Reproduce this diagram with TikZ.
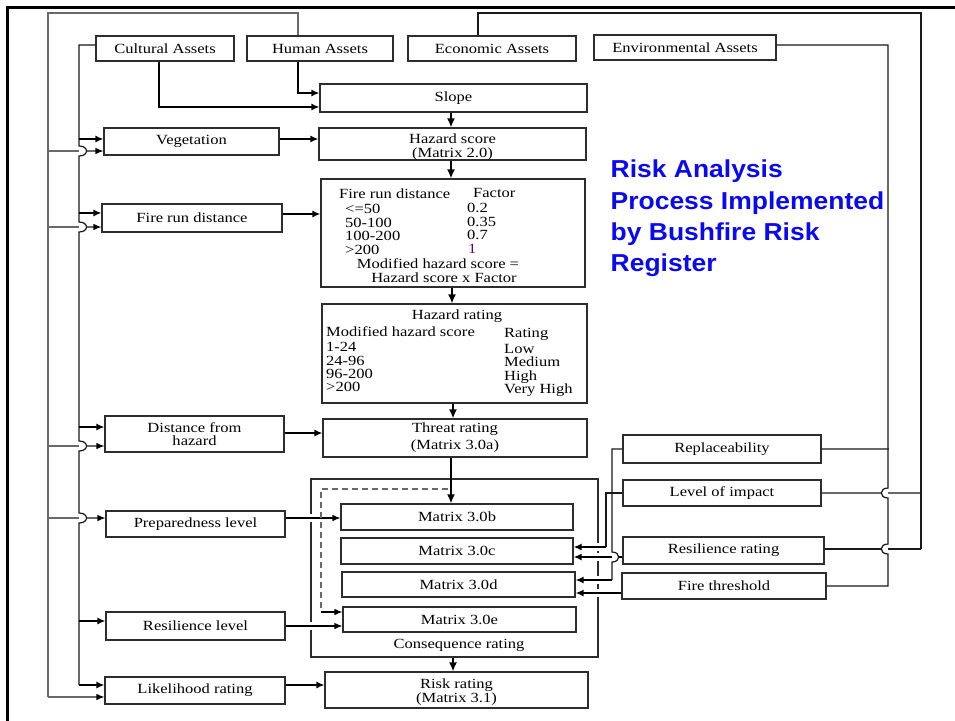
\documentclass[tikz,border=0pt]{standalone}
\usepackage{fontspec}
\usetikzlibrary{arrows.meta,calc}
\newfontfamily\boxfont{Liberation Serif}[FakeStretch=1.18]
\newfontfamily\titlefont{Liberation Sans}[FakeStretch=1.08]
\definecolor{boxc}{RGB}{45,45,45}
\definecolor{linec}{RGB}{25,25,25}
\definecolor{thinc}{RGB}{105,105,105}
\definecolor{titlec}{RGB}{10,10,240}
\definecolor{onec}{RGB}{110,0,70}
\begin{document}
\begin{tikzpicture}[x=1pt,y=-1pt,
  box/.style={draw=boxc, line width=1.1pt, fill=white, inner sep=0pt, align=center,
    font=\boxfont\fontsize{14}{14}\selectfont},
  lbl/.style={inner sep=0pt, font=\boxfont\fontsize{14}{14}\selectfont, text height=9.5pt, text depth=0pt},
  mlbl/.style={inner sep=0pt, align=center, font=\boxfont\fontsize{14}{14}\selectfont},
  tl/.style={lbl, anchor=west},
  ttl/.style={inner sep=0pt, anchor=base west, text=titlec, font=\titlefont\bfseries\fontsize{24.5}{30}\selectfont},
  thk/.style={line width=2.8pt, draw=black, -{Latex[length=9pt,width=8pt]}},
  med/.style={line width=1.9pt, draw=black, -{Latex[length=8pt,width=7pt]}},
  thn/.style={line width=1.1pt, draw=thinc, -{Latex[length=8pt,width=6.5pt,color=black]}},
  bus/.style={line width=1.2pt, draw=linec},
  gbus/.style={line width=1.2pt, draw=thinc},
]
\fill[white] (0,0) rectangle (955,720);
\useasboundingbox (0,0) rectangle (955,720);

% outer frame
\draw[line width=3pt] (7.5,725) -- (7.5,7.5) -- (960,7.5);

% ---------------- boxes
\node[box, minimum width=138pt, minimum height=25pt] (cult) at (165,48.5) {Cultural Assets};
\node[box, minimum width=146pt, minimum height=25pt] (human) at (320,48.5) {Human Assets};
\node[box, minimum width=168pt, minimum height=25pt] (econ) at (492,48.5) {Economic Assets};
\node[box, minimum width=182pt, minimum height=25pt] (env) at (685,47.5) {Environmental Assets};

\node[box, minimum width=267pt, minimum height=28pt] (slope) at (453.5,98) {Slope};
\node[box, minimum width=267pt, minimum height=32pt] (haz) at (452.5,144) {};
\node[mlbl] (hazt) at (452.5,147) {Hazard score\\(Matrix 2.0)};
\node[box, minimum width=175pt, minimum height=27pt] (veg) at (191.5,141.5) {Vegetation};
\node[box, minimum width=180pt, minimum height=28pt] (firerun) at (192,218) {Fire run distance};
\node[box, minimum width=264pt, minimum height=108pt] (table) at (453,233) {};
\node[box, minimum width=265pt, minimum height=99pt] (hrating) at (454.5,353.5) {};
\node[box, minimum width=179pt, minimum height=36pt] (dist) at (194.5,434) {Distance from\\[-1.3pt]hazard};
\node[box, minimum width=264pt, minimum height=38pt] (threat) at (455,438) {Threat rating\\[3pt](Matrix 3.0a)};

\node[box, minimum width=287pt, minimum height=178pt] (cons) at (454.5,568) {};
% gaps where connectors cross the consequence frame
\fill[white] (308,514) rectangle (314,522);
\fill[white] (308,622) rectangle (314,630);
\fill[white] (595,543) rectangle (601,551);
\fill[white] (595,553) rectangle (601,561);
\fill[white] (595,576) rectangle (601,584);
\fill[white] (595,589) rectangle (601,597);

\node[box, minimum width=232pt, minimum height=26pt] (m3b) at (457,517) {Matrix 3.0b};
\node[box, minimum width=232pt, minimum height=26pt] (m3c) at (457,551) {Matrix 3.0c};
\node[box, minimum width=233pt, minimum height=25pt] (m3d) at (458.5,584.5) {Matrix 3.0d};
\node[box, minimum width=233pt, minimum height=25pt] (m3e) at (459.5,619.5) {Matrix 3.0e};
\node[lbl] (consl) at (459,644) {Consequence rating};
\node[box, minimum width=263pt, minimum height=36pt] (risk) at (456.5,690) {};
\node[mlbl] (riskt) at (456.5,692) {Risk rating\\(Matrix 3.1)};

\node[box, minimum width=179pt, minimum height=26pt] (prep) at (195.5,524) {Preparedness level};
\node[box, minimum width=179pt, minimum height=28pt] (resl) at (195.5,626) {Resilience level};
\node[box, minimum width=180pt, minimum height=27pt] (like) at (195,690.5) {Likelihood rating};

\node[box, minimum width=198pt, minimum height=28pt] (repl) at (722,449) {Replaceability};
\node[box, minimum width=198pt, minimum height=26pt] (impact) at (722,493) {Level of impact};
\node[box, minimum width=201pt, minimum height=27pt] (resr) at (723.5,550.5) {Resilience rating};
\node[box, minimum width=204pt, minimum height=26pt] (fire) at (724,586) {Fire threshold};

% ---------------- table texts
\node[tl] (t0a) at (339,194) {Fire run distance};
\node[tl] (t0b) at (473,193) {Factor};
\node[tl] (t1a) at (345,209) {<=50};
\node[tl] (t1b) at (467,208) {0.2};
\node[tl] (t2a) at (345,223) {50-100};
\node[tl] (t2b) at (467,222) {0.35};
\node[tl] (t3a) at (345,236) {100-200};
\node[tl] (t3b) at (467,235) {0.7};
\node[tl] (t4a) at (345,250) {>200};
\node[tl, text=onec] (t4b) at (468,249) {1};
\node[lbl] (t5) at (438,264) {Modified hazard score =};
\node[lbl] (t6) at (444,278) {Hazard score x Factor};

\node[lbl] (h0) at (457,315) {Hazard rating};
\node[tl] (h1a) at (326,332) {Modified hazard score};
\node[tl] (h1b) at (504,333) {Rating};
\node[tl] (h2a) at (326,347) {1-24};
\node[tl] (h2b) at (504,349) {Low};
\node[tl] (h3a) at (326,361) {24-96};
\node[tl] (h3b) at (504,362) {Medium};
\node[tl] (h4a) at (326,374) {96-200};
\node[tl] (h4b) at (504,376) {High};
\node[tl] (h5a) at (326,387) {>200};
\node[tl] (h5b) at (504,389) {Very High};

% ---------------- title
\node[ttl] (ti1) at (610.5,177.7) {Risk Analysis};
\node[ttl] (ti2) at (610.5,209) {Process Implemented};
\node[ttl] (ti3) at (610.5,240.4) {by Bushfire Risk};
\node[ttl] (ti4) at (610.5,271.7) {Register};

% ---------------- bus coordinates
\coordinate (hx) at (298,13);
\coordinate (cx) at (159,0);
\coordinate (ex) at (478,13);

% Human Assets -> outer left bus
\draw[gbus] (human.north -| hx) -- (hx) -- (48,13) -- (48,697);

% thin branches from outer bus
\draw[thn] (48,151) -- ($(veg.west)+(0,9.5)$);
\draw[thn] (48,227) -- ($(firerun.west)+(0,9)$);
\draw[thn] (48,446) -- ($(dist.west)+(0,12)$);
\draw[thn] (48,518) -- ($(prep.west)+(0,-6)$);
\draw[thn] (48,697) -- ($(like.west)+(0,6.5)$);

% hide crossings inside the jumps
\fill[white] (79,146) .. controls (89,146) and (89,156) .. (79,156) -- cycle;
\fill[white] (79,222) .. controls (89,222) and (89,232) .. (79,232) -- cycle;
\fill[white] (79,441) .. controls (89,441) and (89,451) .. (79,451) -- cycle;
\fill[white] (79,513) .. controls (89,513) and (89,523) .. (79,523) -- cycle;

% Cultural Assets -> inner left bus
\draw[bus] ($(cult.west)+(0,-3.5)$) -- (79,45) -- (79,146)
  .. controls (89,146) and (89,156) .. (79,156) -- (79,222)
  .. controls (89,222) and (89,232) .. (79,232) -- (79,441)
  .. controls (89,441) and (89,451) .. (79,451) -- (79,513)
  .. controls (89,513) and (89,523) .. (79,523) -- (79,685);

% thick branches from inner bus
\draw[med] (79,139) -- ($(veg.west)+(0,-2.5)$);
\draw[med] (79,213) -- ($(firerun.west)+(0,-5)$);
\draw[med] (79,427) -- ($(dist.west)+(0,-7)$);
\draw[med] (79,621) -- ($(resl.west)+(0,-5)$);
\draw[med] (79,685) -- ($(like.west)+(0,-5.5)$);

% assets -> slope
\draw[med] (human.south -| hx) |- ($(slope.west)+(0,-5)$);
\draw[med] (cult.south -| cx) |- ($(slope.west)+(0,9)$);

% left boxes -> main column
\draw[med] ($(veg.east)+(0,-2.5)$) -- ($(haz.west)+(0,-5)$);
\draw[med] ($(firerun.east)+(0,-4)$) -- ($(table.west)+(0,-19)$);
\draw[med, line width=1.5pt] ($(dist.east)+(0,-1)$) -- ($(threat.west)+(0,-5)$);
\draw[thn, draw=black] ($(prep.east)+(0,-6)$) -- ($(m3b.west)+(0,1)$);
\draw[thn, draw=black] (resl.east) -- ($(m3e.west)+(0,6.5)$);
\draw[med] ($(like.east)+(0,-5.5)$) -- ($(risk.west)+(0,-5)$);

% main vertical flow
\draw[thk] ($(slope.south)+(-2.5,0)$) -- ($(haz.north)+(-1.5,0)$);
\draw[thk] ($(haz.south)+(-1.5,0)$) -- ($(table.north)+(-2,0)$);
\draw[thk] ($(table.south)+(-1,0)$) -- ($(hrating.north)+(-2.5,0)$);
\draw[thk] ($(hrating.south)+(-1.5,0)$) -- ($(threat.north)+(-2,0)$);
\draw[thk] ($(threat.south)+(-4,0)$) -- ($(m3b.north)+(-6,0)$);
\draw[thk] ($(cons.south)+(-1.5,0)$) -- ($(risk.north)+(-3.5,0)$);

% dashed feedback into Matrix 3.0e
\coordinate (dstart) at (448,489);
\coordinate (dcorner) at (321,612);
\draw[dashed, draw=thinc, line width=1.1pt, dash pattern=on 6pt off 4pt] (dstart) -| (dcorner);
\draw[thn, draw=black] (dcorner) -- ($(m3e.west)+(0,-7.5)$);

% ---------------- right side
\draw[gbus] (repl.east) -- (889,449);
\draw[gbus] (impact.east) -- (921,493);
\draw[bus] ($(resr.east)+(0,-1.5)$) -- (921,549);
\fill[white] (888,488) .. controls (879,488) and (879,498) .. (888,498) -- cycle;
\fill[white] (888,544) .. controls (879,544) and (879,554) .. (888,554) -- cycle;
\draw[bus] ($(env.east)+(0,-2.5)$) -- (888,45) -- (888,488)
  .. controls (879,488) and (879,498) .. (888,498) -- (888,544)
  .. controls (879,544) and (879,554) .. (888,554) -- (888,586) -- (fire.east);
\draw[bus] (econ.north -| ex) -- (ex) -- (921,13) -- (921,549);

% right boxes -> matrices
\draw[med] ($(resr.west)+(0,6.5)$) -- ($(m3c.east)+(0,6)$);
\fill[white] (612,552) .. controls (621,552) and (621,562) .. (612,562) -- cycle;
\draw[bus] (repl.west) -- (612,449) -- (612,552)
  .. controls (621,552) and (621,562) .. (612,562) -- (612,580);
\draw[med] (612,580) -- ($(m3d.east)+(0,-4.5)$);
\draw[bus] (impact.west) -- (606,493) -- (606,547);
\draw[med] (606,547) -- ($(m3c.east)+(0,-4)$);
\draw[med] ($(fire.west)+(0,7)$) -- ($(m3d.east)+(0,8.5)$);

\end{tikzpicture}
\end{document}
